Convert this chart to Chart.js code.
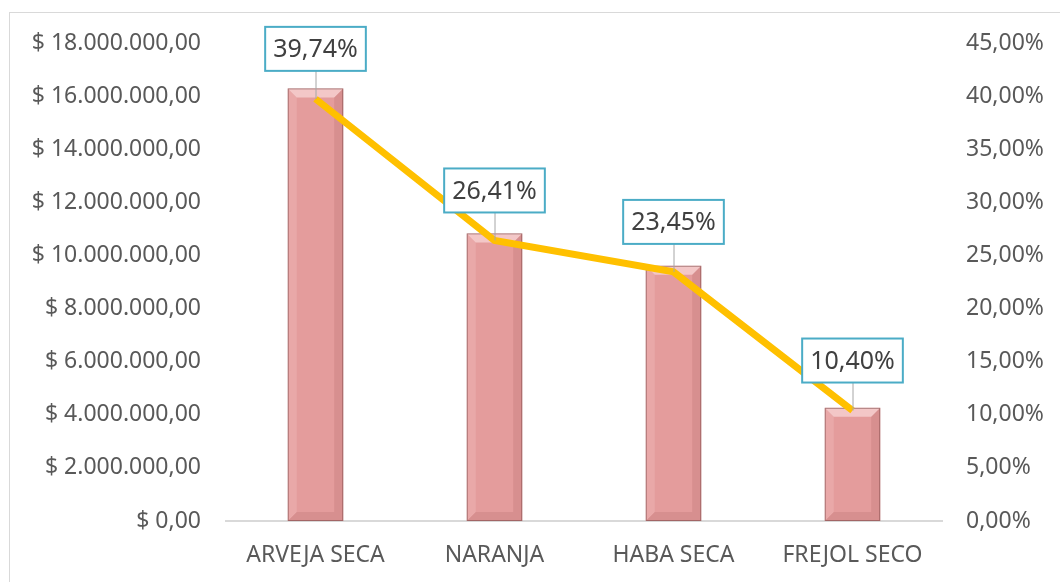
<!DOCTYPE html>
<html>
<head>
<meta charset="utf-8">
<script src="https://cdn.jsdelivr.net/npm/chart.js@4.4.0/dist/chart.umd.min.js"></script>
<style>
  html, body { margin: 0; padding: 0; background: #fff; }
  #wrap { position: relative; width: 1060px; height: 582px; }
  #frame { position: absolute; left: 9px; top: 12px; width: 1100px; height: 600px; border: 1px solid #d9d9d9; box-sizing: border-box; }
  canvas { position: absolute; left: 0; top: 0; }
</style>
</head>
<body>
<div id="wrap">
  <div id="frame"></div>
  <canvas id="chart" width="1060" height="582"></canvas>
</div>
<script>
const categories = ['ARVEJA SECA', 'NARANJA', 'HABA SECA', 'FREJOL SECO'];
const salesValues = [16290000, 10830000, 9610000, 4260000];
const sharePercent = [39.74, 26.41, 23.45, 10.40];
const leftTicks = [0, 2000000, 4000000, 6000000, 8000000, 10000000, 12000000, 14000000, 16000000, 18000000];
const rightTicks = [0, 5, 10, 15, 20, 25, 30, 35, 40, 45];

const textColor = '#595959';
const font = { family: 'Noto Sans', size: 23 };

function money(v) {
    const parts = Math.round(v).toString().replace(/\B(?=(\d{3})+(?!\d))/g, '.');
    return '$ ' + parts + ',00';
}
function pct(v) {
    return v.toFixed(2).replace('.', ',') + '%';
}

// soft bevel look on the bars
const bevelPlugin = {
    id: 'bevel',
    afterDatasetDraw(chart, args) {
        if (args.index !== 0) return;
        const ctx = chart.ctx;
        args.meta.data.forEach(bar => {
            const l = bar.x - bar.width / 2, r = bar.x + bar.width / 2;
            const t = bar.y, b = bar.base;
            const s = Math.min(9, (b - t) / 2);
            ctx.save();
            ctx.fillStyle = 'rgba(255,235,235,0.55)';
            ctx.beginPath();
            ctx.moveTo(l, t); ctx.lineTo(r, t); ctx.lineTo(r - s, t + s); ctx.lineTo(l + s, t + s); ctx.closePath();
            ctx.fill();
            ctx.fillStyle = 'rgba(255,225,225,0.18)';
            ctx.beginPath();
            ctx.moveTo(l, t); ctx.lineTo(l + s, t + s); ctx.lineTo(l + s, b - s); ctx.lineTo(l, b); ctx.closePath();
            ctx.fill();
            ctx.fillStyle = 'rgba(120,50,50,0.12)';
            ctx.beginPath();
            ctx.moveTo(r, t); ctx.lineTo(r, b); ctx.lineTo(r - s, b - s); ctx.lineTo(r - s, t + s); ctx.closePath();
            ctx.fill();
            ctx.fillStyle = 'rgba(120,50,50,0.12)';
            ctx.beginPath();
            ctx.moveTo(l, b); ctx.lineTo(r, b); ctx.lineTo(r - s, b - s); ctx.lineTo(l + s, b - s); ctx.closePath();
            ctx.fill();
            ctx.strokeStyle = 'rgba(110,60,60,0.5)';
            ctx.lineWidth = 1;
            ctx.strokeRect(l + 0.5, t + 0.5, bar.width - 1, b - t - 1);
            ctx.restore();
        });
    }
};

// boxed percentage labels with leader lines
const calloutPlugin = {
    id: 'callouts',
    afterDatasetsDraw(chart) {
        const ctx = chart.ctx;
        const meta = chart.getDatasetMeta(1);
        ctx.save();
        ctx.font = '25px "Noto Sans"';
        ctx.textAlign = 'center';
        ctx.textBaseline = 'middle';
        meta.data.forEach((pt, i) => {
            const text = pct(sharePercent[i]);
            const w = ctx.measureText(text).width + 16;
            const h = 44;
            const cx = pt.x, cy = pt.y - 50;
            ctx.strokeStyle = '#a6a6a6';
            ctx.lineWidth = 1;
            ctx.beginPath();
            ctx.moveTo(cx + 0.5, cy + h / 2);
            ctx.lineTo(cx + 0.5, pt.y);
            ctx.stroke();
            ctx.fillStyle = '#fff';
            ctx.fillRect(cx - w / 2, cy - h / 2, w, h);
            ctx.strokeStyle = '#4bacc6';
            ctx.lineWidth = 2;
            ctx.strokeRect(cx - w / 2, cy - h / 2, w, h);
            ctx.fillStyle = '#404040';
            ctx.fillText(text, cx, cy + 1);
        });
        ctx.restore();
    }
};

const ctx = document.getElementById('chart').getContext('2d');
new Chart(ctx, {
    data: {
        labels: categories,
        datasets: [{
            type: 'bar',
            data: salesValues,
            yAxisID: 'y',
            backgroundColor: '#e49c9c',
            barPercentage: 0.31,
            categoryPercentage: 1,
            order: 2
        }, {
            type: 'line',
            data: sharePercent,
            yAxisID: 'y1',
            borderColor: '#ffc000',
            borderWidth: 7,
            pointRadius: 0,
            tension: 0,
            order: 1
        }]
    },
    options: {
        responsive: false,
        animation: false,
        layout: { padding: { top: 43, left: 0, right: 0, bottom: 0 } },
        plugins: { legend: { display: false }, tooltip: { enabled: false } },
        scales: {
            x: {
                grid: { display: false, drawTicks: false },
                border: { display: true, color: '#d9d9d9', width: 2 },
                ticks: { color: textColor, font: font, padding: 21 },
                afterFit: s => { s.height = 61; }
            },
            y: {
                position: 'left',
                min: 0, max: 18000000,
                afterBuildTicks: s => { s.ticks = leftTicks.map(v => ({ value: v })); },
                grid: { display: false, drawTicks: false },
                border: { display: false },
                ticks: { color: textColor, font: font, padding: 25, callback: v => money(v) },
                afterFit: s => { s.width = 226; }
            },
            y1: {
                position: 'right',
                min: 0, max: 45,
                afterBuildTicks: s => { s.ticks = rightTicks.map(v => ({ value: v })); },
                grid: { display: false, drawTicks: false },
                border: { display: false },
                ticks: { color: textColor, font: font, padding: 24, callback: v => pct(v) },
                afterFit: s => { s.width = 118; }
            }
        }
    },
    plugins: [bevelPlugin, calloutPlugin]
});
</script>
</body>
</html>
